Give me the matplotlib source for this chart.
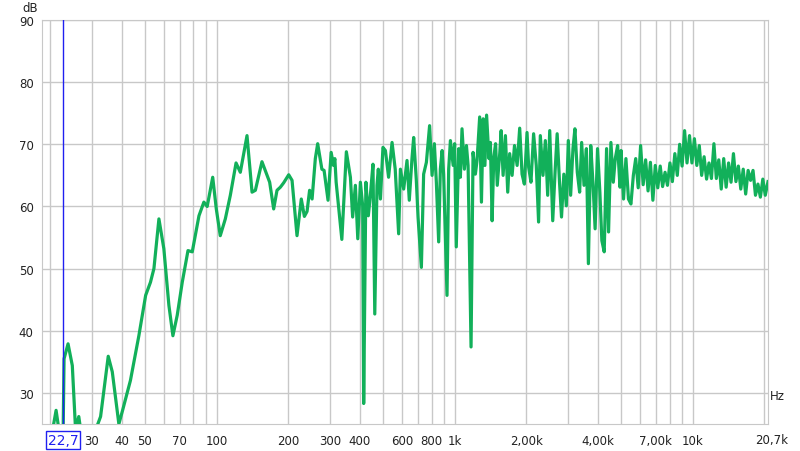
import matplotlib
matplotlib.use("Agg")
import matplotlib.pyplot as plt
import numpy as np

# frequency response (Hz, dB)
freq = [18.5, 19.5, 20.6, 21.2, 21.8, 22.7, 22.9, 23.8, 24.8, 25.6, 26.4, 26.9,
        31.6, 32.6, 35.1, 36.5, 38.9, 40.2, 43.5, 47.2, 50.4, 52.8, 54.6, 57.3,
        60.1, 63.1, 65.6, 68.4, 71.8, 75.9, 79.1, 84.4, 88.5, 91.4, 96.4, 99.8,
        103.7, 108.9, 114.3, 120.8, 125.9, 134.3, 141.0, 145.6, 155.2, 163.0, 167.2,
        173.8, 179.5, 185.4, 191.4, 201, 207.6, 217.8, 227, 233.9, 240, 246, 252,
        260, 266, 277, 283, 294, 303, 310, 314, 318, 336, 351, 365, 373, 383, 392,
        402, 411, 415, 424, 434, 442, 454, 462, 472, 478, 488, 500, 512, 528, 546,
        563, 582, 592, 611, 631, 645, 662, 673, 690, 702, 725, 741, 761, 785, 804,
        822, 838, 857, 871, 886, 899, 929, 944, 960, 986, 1000, 1016, 1040, 1057,
        1074, 1099, 1121, 1139, 1172, 1195, 1222, 1242, 1274, 1296, 1318, 1340, 1362,
        1394, 1413, 1437, 1460, 1486, 1510, 1548, 1568, 1598, 1634, 1671, 1703, 1743,
        1784, 1830, 1876, 1919, 1963, 2014, 2046, 2092, 2146, 2202, 2252, 2290, 2350,
        2404, 2459, 2508, 2582, 2643, 2695, 2757, 2811, 2875, 2944, 3002, 3070, 3140,
        3200, 3274, 3349, 3415, 3494, 3575, 3645, 3729, 3815, 3890, 3982, 4073, 4152,
        4248, 4346, 4430, 4532, 4637, 4727, 4836, 4948,
        5000, 5120, 5240, 5370, 5500, 5630, 5760, 5900, 6040, 6190, 6340, 6490, 6640,
        6800, 6960, 7130, 7300, 7470, 7650, 7830, 8020, 8210, 8410, 8610, 8810, 9020,
        9240, 9460, 9690, 9920, 10160, 10400, 10650, 10900, 11160, 11430, 11700, 11980,
        12270, 12560, 12860, 13170, 13490, 13810, 14140, 14480, 14820, 15180, 15540,
        15910, 16290, 16680, 17080, 17490, 17910, 18340, 18780, 19230, 19690, 20160, 20700]
level = [24.0, 24.0, 24.5, 27.2, 24.0, 24.0, 35.5, 37.9, 34.4, 24.0, 26.2, 24.0,
         24.8, 26.2, 35.9, 33.4, 25.0, 27.0, 32.0, 39.2, 45.7, 47.8, 50.0, 58.0,
         53.2, 44.1, 39.2, 42.5, 47.8, 52.9, 52.7, 58.5, 60.7, 60.0, 64.7, 59.6,
         55.3, 58.0, 61.8, 67.0, 65.5, 71.4, 62.3, 62.6, 67.2, 65.0, 63.9,
         59.6, 62.6, 63.1, 63.8, 65.1, 64.2, 55.3, 61.2, 58.4, 59.2, 62.6, 61.2,
         67.7, 70.1, 66.0, 65.8, 61.0, 68.7, 66.6, 67.7, 63.9, 54.7, 68.8, 64.7, 58.3, 63.4, 54.8,
         63.9, 60.1, 28.3, 63.9, 58.5, 61.5, 66.8, 42.7, 63.4, 66.0, 61.2, 69.5, 69.0, 64.7, 70.3,
         66.0, 55.6, 66.0, 62.8, 67.4, 61.0, 67.7, 71.1, 64.4, 58.3, 50.2, 65.2, 67.1, 73.0, 65.0,
         70.1, 63.9, 54.3, 66.0, 69.0, 65.2, 45.7, 66.0, 70.6, 66.6, 70.1, 53.5, 69.3, 64.7,
         72.5, 66.0, 69.8, 66.6, 37.4, 68.7, 65.2, 67.4, 74.4, 60.7, 74.1, 66.6, 74.7,
         67.7, 70.3, 57.7, 67.9, 70.1, 63.4, 68.7, 72.2, 65.0, 71.4, 62.3, 68.5, 65.0,
         69.8, 66.6, 72.6, 65.2, 63.6, 71.9, 66.3, 63.9, 71.7, 66.6, 57.5, 71.4, 65.0,
         70.6, 61.8, 72.2, 57.7, 65.8, 71.7, 63.9, 58.3, 65.2, 60.1, 70.6, 61.8, 69.3,
         72.5, 65.5, 62.3, 70.3, 63.4, 69.3, 50.8, 69.8, 63.4, 56.4, 69.3, 62.3, 54.5,
         52.7, 69.3, 55.9, 70.3, 63.9, 67.7, 69.8, 63.1,
         69.0, 61.2, 67.7, 61.2, 60.4, 65.0, 67.7, 63.0, 69.8, 63.5, 67.5, 62.5, 67.1,
         61.0, 66.6, 63.0, 66.5, 63.2, 65.5, 63.4, 67.0, 64.0, 68.5, 65.0, 70.0, 66.5,
         72.2, 67.0, 71.4, 67.0, 70.9, 66.6, 69.8, 65.0, 68.0, 64.4, 67.0, 64.5,
         70.1, 64.5, 67.5, 62.8, 67.7, 63.1, 67.0, 63.9, 68.5, 64.0, 66.5,
         62.8, 66.0, 62.0, 65.8, 64.2, 65.8, 61.8, 63.6, 61.5, 64.4, 61.8, 64.0]

grid_freqs = [20, 30, 40, 50, 60, 70, 80, 90, 100, 200, 300, 400, 500, 600, 700, 800, 900,
              1000, 2000, 3000, 4000, 5000, 6000, 7000, 8000, 9000, 10000, 20000]
x_labels = {30: "30", 40: "40", 50: "50", 70: "70", 100: "100", 200: "200", 300: "300",
            400: "400", 600: "600", 800: "800", 1000: "1k", 2000: "2,00k", 4000: "4,00k",
            7000: "7,00k", 10000: "10k"}
y_ticks = [30, 40, 50, 60, 70, 80, 90]
cursor_freq = 22.7
f_min, f_max = 18.5, 20700

fig = plt.figure(figsize=(8, 4.52), dpi=100)
ax = fig.add_axes([42 / 800, 1 - 425 / 452, 726 / 800, 404 / 452])

ax.plot(freq, level, color="#12b05a", lw=2.3, solid_joinstyle="round", zorder=3)

ax.set_xscale("log")
ax.set_xlim(f_min, f_max)
ax.set_ylim(25, 90)
ax.set_xticks(grid_freqs)
ax.set_xticks([], minor=True)
ax.set_xticklabels([x_labels.get(f, "") for f in grid_freqs])
ax.set_yticks(y_ticks)
ax.set_yticklabels([str(v) for v in y_ticks])
ax.grid(True, color="#c8c8c8", lw=1.0, zorder=0)
ax.tick_params(length=0, labelsize=8.5, colors="#222222", pad=7)
ax.tick_params(axis="y", pad=6)
for s in ax.spines.values():
    s.set_color("#c8c8c8")

# right-end label and axis units
lab_y = (425 - 441) / 404
ax.text(1.005, lab_y, "20,7k", transform=ax.transAxes, ha="center", va="center",
        fontsize=8.5, color="#222222")
fig.text(30 / 800, 1 - 9 / 452, "dB", ha="center", va="center", fontsize=8.5, color="#222222")
fig.text(777 / 800, 1 - 397 / 452, "Hz", ha="center", va="center", fontsize=8.5, color="#222222")

# cursor
ax.axvline(cursor_freq, color="#2020f0", lw=1.0, zorder=4)
ax.text(cursor_freq, lab_y, "22,7", transform=ax.get_xaxis_transform(), ha="center", va="center",
        fontsize=10, color="#2020f0", zorder=5,
        bbox=dict(boxstyle="square,pad=0.12", fc="white", ec="#2020f0", lw=1.0))

fig.savefig("out.png", dpi=100)
